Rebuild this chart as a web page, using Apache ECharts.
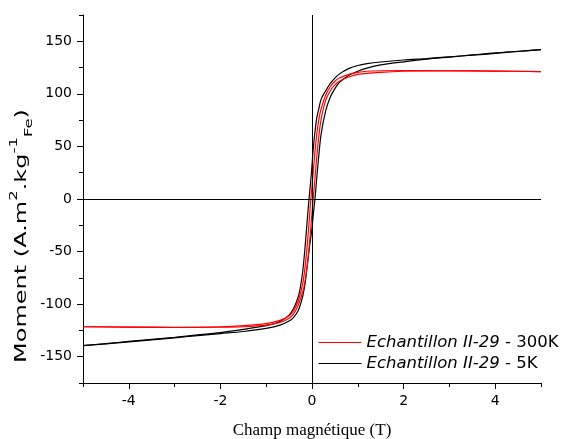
<!DOCTYPE html>
<html>
<head>
<meta charset="utf-8">
<script src="https://cdn.jsdelivr.net/npm/echarts@6/dist/echarts.min.js"></script>
<style>html,body{margin:0;padding:0;background:#fff}#c{width:567px;height:439px}</style>
</head>
<body>
<div id="c"></div>
<script>
// ---- Data ----
const seriesNames = ['Echantillon II-29 - 300K', 'Echantillon II-29 - 5K'];
const xTickLabels = [-4, -2, 0, 2, 4];
const yTickLabels = [-150, -100, -50, 0, 50, 100, 150];

// 5 K, descending branch (field from +5 T to -5 T)
const hBlackDown = [5, 4.5, 4, 3.5, 3, 2.5, 2, 1.5, 1.2, 1.0, 0.8, 0.6, 0.5, 0.4, 0.3, 0.2, 0.15, 0.1, 0.05, 0.02, 0, -0.03, -0.065, -0.1, -0.15, -0.2, -0.25, -0.3, -0.4, -0.5, -0.7, -1.0, -1.5, -2, -2.5, -3, -3.5, -4, -4.5, -5];
const mBlackDown = [142, 140.3, 138.5, 136.8, 135.2, 133.6, 132.2, 130.3, 128.7, 127, 124, 119, 115, 110, 103, 95, 86, 76, 58, 44, 32, 16, 0, -18, -45, -68, -83, -93, -104, -110.5, -116.5, -120.5, -124, -127, -129.3, -131.5, -133.5, -135.5, -137.5, -139.5];
// 5 K, ascending branch (field from -5 T to +5 T)
const hBlackUp = [-5, -4.5, -4, -3.5, -3, -2.5, -2, -1.5, -1.0, -0.7, -0.5, -0.4, -0.3, -0.25, -0.2, -0.15, -0.1, -0.05, 0, 0.03, 0.065, 0.1, 0.15, 0.2, 0.3, 0.4, 0.5, 0.6, 0.8, 1.0, 1.2, 1.5, 2, 2.5, 3, 3.5, 4, 4.5, 5];
const mBlackUp = [-139.5, -137.7, -135.8, -134, -132, -130, -128, -126, -123, -120, -116, -112.5, -106, -100, -92, -80, -62, -44, -28, -14, 0, 18, 42, 62, 84, 97, 105, 111, 117.5, 121.5, 124.5, 127.5, 130.5, 133, 135, 137, 139, 140.5, 142];
// 300 K, descending branch
const hRedDown = [5, 4, 3, 2, 1.5, 1.2, 1.0, 0.8, 0.6, 0.5, 0.4, 0.3, 0.2, 0.15, 0.1, 0.05, 0.02, -0.025, -0.05, -0.1, -0.15, -0.2, -0.3, -0.4, -0.5, -0.7, -1.0, -1.5, -2, -3, -4, -5];
const mRedDown = [121.2, 121.7, 122, 122.2, 122, 121.5, 120.5, 118.5, 115, 112, 107, 99, 86, 76, 60, 38, 22, 0, -14, -42, -64, -80, -97, -106, -111, -115.5, -118.5, -120.5, -121.5, -122, -121.8, -121.5];
// 300 K, ascending branch
const hRedUp = [-5, -4, -3, -2, -1.5, -1.0, -0.7, -0.5, -0.4, -0.3, -0.2, -0.15, -0.1, -0.05, -0.02, 0.025, 0.05, 0.1, 0.15, 0.2, 0.3, 0.4, 0.5, 0.6, 0.8, 1.0, 1.5, 2, 3, 4, 5];
const mRedUp = [-121.5, -121.9, -122.2, -122, -121.5, -120, -117.5, -113.5, -109, -101, -88, -78, -62, -40, -24, 0, 12, 38, 60, 76, 94, 103, 108.5, 112, 116, 118.5, 120.5, 121.5, 122, 121.7, 121.2];

function pairs(h, m) { return h.map((v, i) => [v, m[i]]); }

const chart = echarts.init(document.getElementById('c'), null, { renderer: 'canvas' });
const FONT = 'DejaVu Sans';

function branch(name, color, h, m, z, extra) {
  return Object.assign({
    name: name,
    type: 'line',
    xAxisIndex: 0,
    yAxisIndex: 0,
    data: pairs(h, m),
    symbol: 'none',
    showSymbol: false,
    smooth: 0.3,
    z: z,
    lineStyle: { color: color, width: 1.2 },
    itemStyle: { color: color },
    animation: false
  }, extra || {});
}

const option = {
  animation: false,
  backgroundColor: '#fff',
  grid: { left: 83, right: 26, top: 15, bottom: 56, containLabel: false, outerBoundsMode: 'none' },
  xAxis: [
    {
      type: 'value', min: -5, max: 5, position: 'bottom',
      name: 'Champ magnétique (T)', nameLocation: 'middle', nameGap: 39,
      nameTextStyle: { fontFamily: 'Liberation Serif', fontSize: 17, color: '#000' },
      axisLine: { show: true, onZero: false, lineStyle: { color: '#000', width: 1 } },
      axisTick: { show: true, length: 6, customValues: xTickLabels, lineStyle: { color: '#000' } },
      axisLabel: { show: true, customValues: xTickLabels, margin: 11, fontFamily: FONT, fontSize: 14, color: '#000' },
      splitLine: { show: false }
    },
    {
      type: 'value', min: -5, max: 5, interval: 1, position: 'bottom', offset: 0,
      axisLine: { show: false, onZero: false },
      axisTick: { show: true, length: 4, lineStyle: { color: '#000' } },
      axisLabel: { show: false },
      splitLine: { show: false }
    }
  ],
  yAxis: [
    {
      type: 'value', min: -175, max: 175, position: 'left',
      axisLine: { show: true, onZero: false, lineStyle: { color: '#000', width: 1 } },
      axisTick: { show: true, length: 6, customValues: yTickLabels, lineStyle: { color: '#000' } },
      axisLabel: { show: true, customValues: yTickLabels, margin: 11, fontFamily: FONT, fontSize: 14, color: '#000' },
      splitLine: { show: false }
    },
    {
      type: 'value', min: -175, max: 175, interval: 25, position: 'left', offset: 0,
      axisLine: { show: false, onZero: false },
      axisTick: { show: true, length: 4, lineStyle: { color: '#000' } },
      axisLabel: { show: false },
      splitLine: { show: false }
    }
  ],
  legend: {
    data: seriesNames,
    orient: 'vertical',
    left: 318, top: 334,
    padding: 0,
    itemWidth: 43, itemHeight: 14, itemGap: 4,
    itemStyle: { opacity: 0 },
    lineStyle: { width: 1 },
    textStyle: {
      fontFamily: FONT, fontSize: 16.5, color: '#000',
      rich: {
        i: { fontFamily: FONT, fontSize: 16.5, fontStyle: 'italic', color: '#000' },
        n: { fontFamily: FONT, fontSize: 16.5, color: '#000' }
      }
    },
    formatter: function (name) {
      const k = name.indexOf(' - ');
      return '{i|' + name.slice(0, k) + '}{n|' + name.slice(k) + '}';
    }
  },
  graphic: [
    {
      type: 'text',
      x: 22, y: 236,
      rotation: Math.PI / 2,
      scaleX: 1.5,
      style: {
        text: '{m|Moment (A.m}{sup|2}{m|.kg}{sup|-1}{sub|Fe}{m|)}',
        align: 'center', verticalAlign: 'middle',
        fill: '#000',
        rich: {
          m: { fontFamily: FONT, fontSize: 16, lineHeight: 26, fill: '#000', color: '#000' },
          sup: { fontFamily: FONT, fontSize: 11, lineHeight: 11, verticalAlign: 'top', fill: '#000', color: '#000' },
          sub: { fontFamily: FONT, fontSize: 11, lineHeight: 11, verticalAlign: 'bottom', fill: '#000', color: '#000' }
        }
      }
    }
  ],
  series: [
    branch(seriesNames[1], '#000000', hBlackDown, mBlackDown, 2, {
      markLine: {
        silent: true, symbol: ['none', 'none'], animation: false,
        label: { show: false },
        lineStyle: { color: '#000', width: 1, type: 'solid' },
        emphasis: { disabled: true },
        data: [{ xAxis: 0 }, { yAxis: 0 }]
      }
    }),
    branch(seriesNames[1], '#000000', hBlackUp, mBlackUp, 2),
    branch(seriesNames[0], '#ff0000', hRedDown, mRedDown, 3),
    branch(seriesNames[0], '#ff0000', hRedUp, mRedUp, 3)
  ]
};
chart.setOption(option);
</script>
</body>
</html>
